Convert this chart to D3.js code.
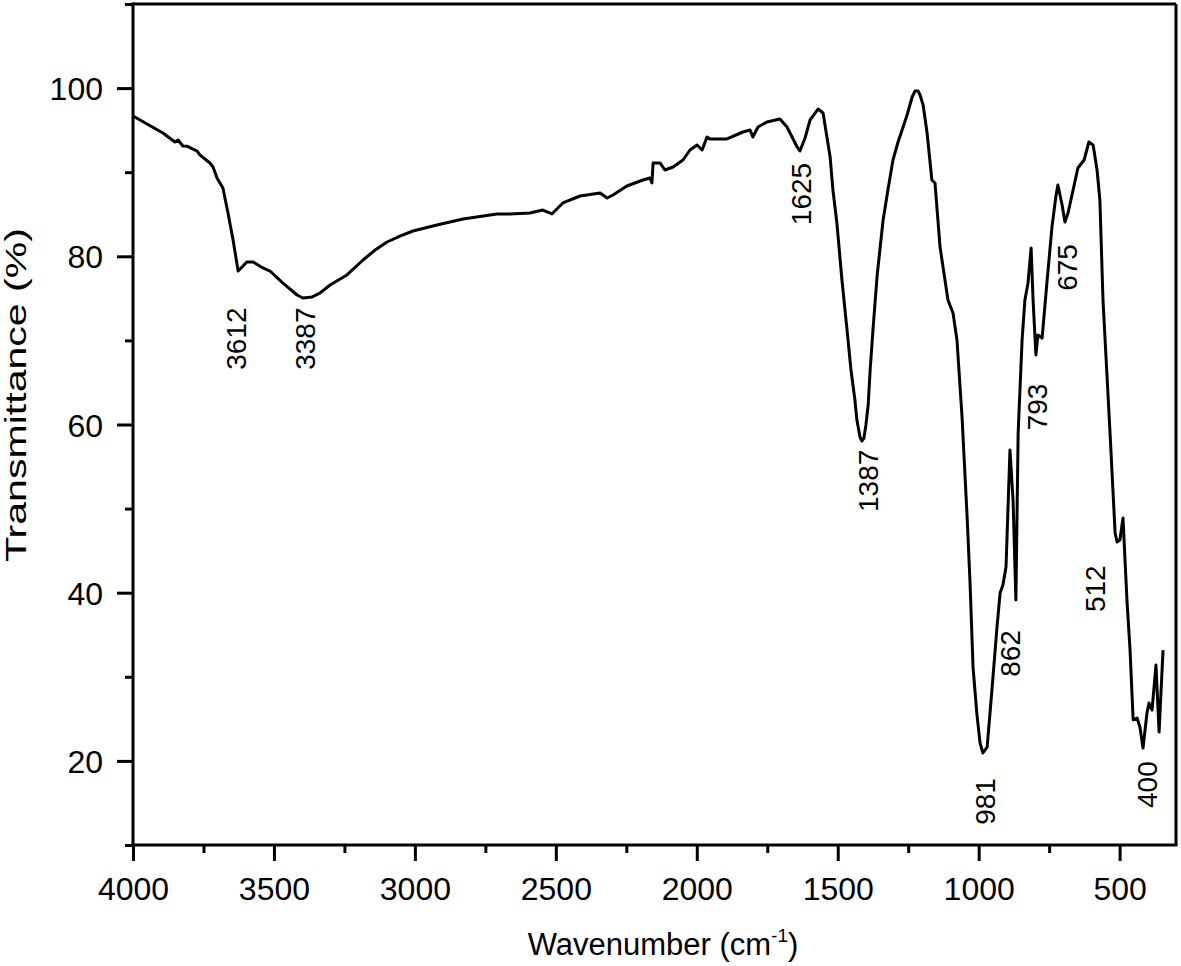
<!DOCTYPE html>
<html>
<head>
<meta charset="utf-8">
<script src="https://cdn.jsdelivr.net/npm/d3@7/dist/d3.min.js"></script>
<style>
  html, body { margin: 0; padding: 0; background: #fff; }
  svg { display: block; }
  text { font-family: "Liberation Sans", Arial, sans-serif; fill: #000; }
</style>
</head>
<body>
<svg id="chart" width="1181" height="966"></svg>
<script>
// ---- data ----
const wavenumber = [4000,3894,3851,3840,3823,3808,3791,3773,3762,3727,3716,3702,3681,3663,3645,3627,3596,3574,3539,3514,3468,3418,3397,3365,3337,
  3301,3241,3184,3141,3099,3053,3007,2922,2829,2709,2663,2592,2546,2514,2475,2414,2343,2318,2297,2248,2191,2166,
  2159,2155,2130,2113,2084,2049,2024,1999,1981,1964,1953,1893,1836,1811,1801,1783,1751,1705,1680,1644,
  1634,1616,1598,1570,1552,1527,1517,1503,1485,1467,1453,1439,1432,1421,1414,1407,1400,1392,1385,1375,1360,1339,1322,1304,1286,1268,1254,1244,1236,1226,
  1215,1208,1197,1183,1166,1155,1137,1109,1091,1077,1059,1041,1031,1020,1006,995,985,970,953,935,924,914,
  903,889,878,868,860,846,836,825,814,807,797,790,775,758,740,726,719,704,694,683,
  669,648,626,609,594,580,570,559,534,516,509,499,488,474,463,452,438,428,417,403,
  396,385,371,360,346];
const transmittance = [96.68,94.66,93.59,93.83,93.12,93.1,92.8,92.52,92.04,91.09,90.62,89.31,88.12,85.15,81.94,78.25,79.32,79.32,78.61,78.25,76.82,75.4,75.04,75.16,75.63,
  76.59,77.78,79.56,80.75,81.7,82.41,83.01,83.72,84.43,85.03,85.03,85.15,85.5,85.03,86.34,87.17,87.53,86.93,87.29,88.36,89.07,89.31,
  88.72,91.09,91.09,90.26,90.62,91.45,92.64,93.23,92.64,94.18,93.95,93.95,94.78,95.02,94.18,95.37,95.97,96.33,95.37,93.0,
  92.52,94.07,96.21,97.51,97.04,91.81,87.88,83.96,77.18,71.24,66.48,62.91,60.53,58.51,58.04,58.39,59.94,62.32,66.48,71.24,77.78,84.32,87.88,91.45,93.59,95.37,96.8,97.99,98.94,99.65,
  99.65,99.18,97.99,94.66,89.07,88.72,81.1,74.8,73.26,70.05,60.89,49.0,41.51,31.16,25.45,22.12,20.94,21.65,28.43,35.92,39.96,40.91,
  43.05,56.97,51.02,39.13,58.99,70.05,74.8,76.82,80.99,74.8,68.26,70.64,70.28,76.82,83.48,87.17,88.48,86.1,84.08,85.15,
  87.29,90.5,91.45,93.59,93.23,90.26,86.69,74.8,58.99,47.1,46.03,46.26,48.88,39.13,33.18,24.86,25.1,24.03,21.53,25.69,
  26.88,26.05,31.4,23.43,33.18];

const peakLabels = ["3612","3387","1625","1387","981","400","862","512","793","675"];
const labelX     = [3635, 3389, 1630, 1393, 978, 403, 889, 587, 793, 687];   // wavenumber of label centre
const labelY     = [66.5, 66.5, 83.7, 49.6, 12.4, 14.4, 30.0, 37.7, 59.3, 75.9]; // transmittance at label start

const xMajorTicks = [4000,3500,3000,2500,2000,1500,1000,500];
const xMinorTicks = [3750,3250,2750,2250,1750,1250,750];
const yMajorTicks = [20,40,60,80,100];
const yMinorTicks = [10,30,50,70,90,110];

const xDomain = [4000, 300];
const yDomain = [10, 110];

// ---- layout ----
const L = 133, R = 1176, T = 4, B = 845;
const svg = d3.select("#chart");
const x = d3.scaleLinear().domain(xDomain).range([L, R]);
const y = d3.scaleLinear().domain(yDomain).range([B, T]);

// spectrum line
const pts = wavenumber.map((w, i) => [w, transmittance[i]]);
svg.append("path")
  .datum(pts)
  .attr("fill", "none")
  .attr("stroke", "#000")
  .attr("stroke-width", 3)
  .attr("stroke-linejoin", "round")
  .attr("d", d3.line().x(d => x(d[0])).y(d => y(d[1])));

// frame (top + right)
svg.append("line").attr("x1", L).attr("x2", R).attr("y1", T).attr("y2", T)
  .attr("stroke", "#000").attr("stroke-width", 3);
svg.append("line").attr("x1", R).attr("x2", R).attr("y1", T).attr("y2", B)
  .attr("stroke", "#000").attr("stroke-width", 3);

// axes
const fs = 32;
const xAxis = svg.append("g").attr("transform", `translate(0,${B})`)
  .call(d3.axisBottom(x).tickValues(xMajorTicks).tickSize(16).tickPadding(16).tickFormat(d3.format("d")));
const xMinor = svg.append("g").attr("transform", `translate(0,${B})`)
  .call(d3.axisBottom(x).tickValues(xMinorTicks).tickSize(8).tickFormat(""));
const yAxis = svg.append("g").attr("transform", `translate(${L},0)`)
  .call(d3.axisLeft(y).tickValues(yMajorTicks).tickSize(16).tickPadding(14).tickFormat(d3.format("d")));
const yMinor = svg.append("g").attr("transform", `translate(${L},0)`)
  .call(d3.axisLeft(y).tickValues(yMinorTicks).tickSize(8).tickFormat(""));

[xAxis, xMinor, yAxis, yMinor].forEach(g => {
  g.select(".domain").attr("stroke", "#000").attr("stroke-width", 3);
  g.selectAll(".tick line").attr("stroke", "#000").attr("stroke-width", 3);
  g.selectAll("text").attr("font-size", fs)
    .attr("font-family", '"Liberation Sans", Arial, sans-serif').attr("fill", "#000");
});
// extend domain lines to cover corners
xAxis.select(".domain").attr("d", `M${L - 1.5},0H${R + 1.5}`);
yAxis.select(".domain").attr("d", `M0,${T - 1.5}V${B + 1.5}`);
xMinor.select(".domain").remove();
yMinor.select(".domain").remove();
yAxis.selectAll(".tick text").attr("dy", "0.36em");
xAxis.selectAll(".tick text").attr("dy", "0.72em");

// peak labels
svg.append("g").selectAll("text")
  .data(peakLabels)
  .join("text")
  .attr("transform", (d, i) => `translate(${x(labelX[i])},${y(labelY[i])}) rotate(-90)`)
  .attr("text-anchor", "start")
  .attr("dy", "0.36em")
  .attr("font-size", 28)
  .text(d => d);

// axis titles
const xt = svg.append("text")
  .attr("x", 663).attr("y", 955)
  .attr("text-anchor", "middle")
  .attr("font-size", 31);
xt.append("tspan").text("Wavenumber (cm");
xt.append("tspan").attr("font-size", 19).attr("dy", -13).text("-1");
xt.append("tspan").attr("dy", 13).text(")");

svg.append("text")
  .attr("transform", "translate(26,395) rotate(-90)")
  .attr("text-anchor", "middle")
  .attr("font-size", 29)
  .attr("textLength", 334)
  .attr("lengthAdjust", "spacingAndGlyphs")
  .text("Transmittance (%)");
</script>
</body>
</html>
